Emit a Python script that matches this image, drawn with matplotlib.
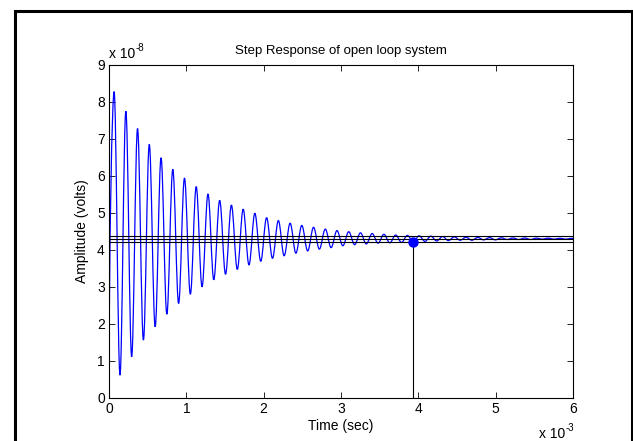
"""Step response of the open loop system, redrawn in matplotlib.

Peaks and troughs read off the original plot; the curve between them is
drawn as cubic Bezier segments with flat tangents at each extremum.
"""
import matplotlib
matplotlib.use("Agg")
import matplotlib.pyplot as plt
from matplotlib.path import Path
from matplotlib.patches import PathPatch, Rectangle
from matplotlib.transforms import offset_copy

plt.rcParams["font.family"] = ["Liberation Sans", "DejaVu Sans"]

# time in ms (x 10^-3 s), amplitude in x 10^-8 V
peak_t = [0.066, 0.218, 0.369, 0.521, 0.673, 0.825, 0.976, 1.128, 1.280, 1.431,
          1.583, 1.735, 1.886, 2.038, 2.190, 2.342, 2.493, 2.645, 2.797, 2.948,
          3.100, 3.252, 3.403, 3.555, 3.707, 3.859, 4.010, 4.162, 4.314, 4.465,
          4.617, 4.769, 4.920, 5.072, 5.224, 5.376, 5.527, 5.679, 5.831, 5.982]
peak_v = [8.28, 7.75, 7.28, 6.85, 6.49, 6.18, 5.94, 5.71, 5.51, 5.34,
          5.21, 5.10, 4.99, 4.87, 4.79, 4.72, 4.66, 4.61, 4.56, 4.52,
          4.49, 4.46, 4.44, 4.42, 4.40, 4.39, 4.38, 4.37, 4.36, 4.35,
          4.34, 4.335, 4.33, 4.325, 4.32, 4.32, 4.315, 4.315, 4.31, 4.31]
trough_t = [0.142, 0.293, 0.445, 0.597, 0.748, 0.900, 1.052, 1.203, 1.355, 1.507,
            1.659, 1.810, 1.962, 2.114, 2.265, 2.417, 2.569, 2.720, 2.872, 3.024,
            3.176, 3.327, 3.479, 3.631, 3.782, 3.934, 4.086, 4.237, 4.389, 4.541,
            4.692, 4.844, 4.996, 5.148, 5.299, 5.451, 5.603, 5.754, 5.906]
trough_v = [0.61, 1.11, 1.56, 1.92, 2.26, 2.55, 2.80, 3.00, 3.19, 3.34,
            3.47, 3.59, 3.69, 3.77, 3.84, 3.91, 3.97, 4.02, 4.06, 4.11,
            4.14, 4.16, 4.18, 4.19, 4.20, 4.21, 4.23, 4.24, 4.25, 4.26,
            4.26, 4.27, 4.27, 4.28, 4.28, 4.28, 4.29, 4.29, 4.29]
start_t, start_v = 0.0, 0.0
end_t, end_v = 6.0, 4.31

# settling-time markers
band_lines = [4.38, 4.30, 4.214]
settle_t, settle_v = 3.934, 4.214

# order the extrema along time
pts = [(start_t, start_v)]
for i in range(len(peak_t)):
    pts.append((peak_t[i], peak_v[i]))
    if i < len(trough_t):
        pts.append((trough_t[i], trough_v[i]))
pts.append((end_t, end_v))

k = 0.364  # cubic handle for a half-cosine
verts = [pts[0]]
codes = [Path.MOVETO]
for j in range(1, len(pts)):
    (x0, y0), (x1, y1) = pts[j - 1], pts[j]
    dt = x1 - x0
    if j == 1:
        c1 = (x0, y0 + 0.5 * (y1 - y0))  # steep initial rise
    else:
        c1 = (x0 + k * dt, y0)
    c2 = (x1 - k * dt, y1)
    verts += [c1, c2, (x1, y1)]
    codes += [Path.CURVE4] * 3

fig = plt.figure(figsize=(6.33, 4.41), dpi=100)
ax = fig.add_axes([109 / 633, 1 - 397.7 / 441, 464 / 633, 332.7 / 441])

ax.add_patch(PathPatch(Path(verts, codes), fill=False, edgecolor="#0000ff",
                       linewidth=0.9, zorder=2))

for v in band_lines:
    ax.axhline(v, color="black", linewidth=0.8, zorder=3)
ax.plot([settle_t, settle_t], [0, settle_v], color="black", linewidth=0.8, zorder=3)
ax.plot([settle_t], [settle_v], "o", color="#0000ff", markersize=6.5, zorder=4)

ax.set_xlim(0, 6)
ax.set_ylim(0, 9)
ax.set_xticks(range(0, 7))
ax.set_yticks(range(0, 10))
ax.tick_params(direction="in", top=True, right=True, length=4, width=0.6,
               labelsize=10, pad=3)
for s in ax.spines.values():
    s.set_linewidth(0.8)

ax.set_title("Step Response of open loop system", fontsize=9.5, pad=8)
ax.set_xlabel("Time (sec)", fontsize=10, labelpad=2)
ax.set_ylabel("Amplitude (volts)", fontsize=10, labelpad=6)

# exponent labels, MATLAB style: "x 10" with a small raised "-8"
ax.text(0, 1.021, "x 10", transform=ax.transAxes, ha="left",
        va="baseline", fontsize=10)
ax.text(0, 1.021, "-8",
        transform=offset_copy(ax.transAxes, fig=fig, x=27, y=7, units="dots"),
        ha="left", va="baseline", fontsize=7)
ax.text(1, -0.121, "x 10",
        transform=offset_copy(ax.transAxes, fig=fig, x=-8, y=0, units="dots"),
        ha="right", va="baseline", fontsize=10)
ax.text(1, -0.121, "-3",
        transform=offset_copy(ax.transAxes, fig=fig, x=-7, y=7, units="dots"),
        ha="left", va="baseline", fontsize=7)

# frame round the whole figure
fig.add_artist(Rectangle((14.5 / 633, -0.05), (632 - 14.5) / 633, 1.05 - 10.8 / 441,
                         transform=fig.transFigure, fill=False,
                         edgecolor="black", linewidth=2.2, clip_on=False))

fig.savefig("out.png", dpi=100)
